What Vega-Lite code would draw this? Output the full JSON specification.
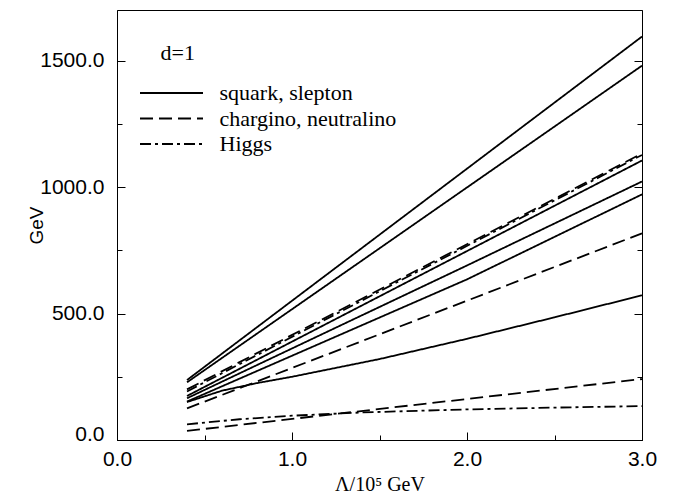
{
  "$schema": "https://vega.github.io/schema/vega-lite/v6.json",
  "autosize": "none",
  "width": 525,
  "height": 430,
  "padding": {"left": 117, "top": 10, "right": 47, "bottom": 54},
  "background": "white",
  "config": {
    "view": {"stroke": "black", "strokeWidth": 1},
    "axis": {"domainColor": "black", "tickColor": "black", "labelColor": "black", "titleColor": "black", "labelFont": "Liberation Sans", "labelFontSize": 21, "grid": false}
  },
  "data": {"values": [
    {"s": "A", "type": "squark, slepton", "x": 0.4, "y": 237}, {"s": "A", "type": "squark, slepton", "x": 3.0, "y": 1595},
    {"s": "B", "type": "squark, slepton", "x": 0.4, "y": 228}, {"s": "B", "type": "squark, slepton", "x": 3.0, "y": 1480},
    {"s": "C", "type": "chargino, neutralino", "x": 0.4, "y": 200}, {"s": "C", "type": "chargino, neutralino", "x": 3.0, "y": 1133},
    {"s": "D", "type": "Higgs", "x": 0.4, "y": 192}, {"s": "D", "type": "Higgs", "x": 3.0, "y": 1127},
    {"s": "E", "type": "squark, slepton", "x": 0.4, "y": 174}, {"s": "E", "type": "squark, slepton", "x": 3.0, "y": 1105},
    {"s": "F", "type": "squark, slepton", "x": 0.4, "y": 165}, {"s": "F", "type": "squark, slepton", "x": 2.0, "y": 690}, {"s": "F", "type": "squark, slepton", "x": 3.0, "y": 1022},
    {"s": "G", "type": "squark, slepton", "x": 0.4, "y": 152}, {"s": "G", "type": "squark, slepton", "x": 2.0, "y": 635}, {"s": "G", "type": "squark, slepton", "x": 3.0, "y": 971},
    {"s": "H", "type": "chargino, neutralino", "x": 0.4, "y": 125}, {"s": "H", "type": "chargino, neutralino", "x": 3.0, "y": 817},
    {"s": "I", "type": "squark, slepton", "x": 0.4, "y": 150}, {"s": "I", "type": "squark, slepton", "x": 0.6, "y": 195}, {"s": "I", "type": "squark, slepton", "x": 0.8, "y": 225}, {"s": "I", "type": "squark, slepton", "x": 1.0, "y": 250}, {"s": "I", "type": "squark, slepton", "x": 1.5, "y": 320}, {"s": "I", "type": "squark, slepton", "x": 2.0, "y": 400}, {"s": "I", "type": "squark, slepton", "x": 2.5, "y": 485}, {"s": "I", "type": "squark, slepton", "x": 3.0, "y": 572},
    {"s": "J", "type": "chargino, neutralino", "x": 0.4, "y": 36}, {"s": "J", "type": "chargino, neutralino", "x": 3.0, "y": 241},
    {"s": "K", "type": "Higgs", "x": 0.4, "y": 62}, {"s": "K", "type": "Higgs", "x": 0.7, "y": 82}, {"s": "K", "type": "Higgs", "x": 1.0, "y": 96}, {"s": "K", "type": "Higgs", "x": 1.4, "y": 109}, {"s": "K", "type": "Higgs", "x": 2.0, "y": 121}, {"s": "K", "type": "Higgs", "x": 2.5, "y": 128}, {"s": "K", "type": "Higgs", "x": 3.0, "y": 134}
  ]},
  "layer": [
    {
      "mark": {"type": "line", "color": "black", "strokeWidth": 1.8},
      "encoding": {
        "x": {"field": "x", "type": "quantitative", "scale": {"domain": [0, 3], "nice": false, "zero": false},
          "axis": {"orient": "bottom", "values": [0, 0.5, 1, 1.5, 2, 2.5, 3],
            "labelExpr": "datum.value % 1 === 0 ? format(datum.value, '.1f') : ''",
            "tickSize": {"condition": {"test": "datum.value % 1 === 0", "value": -8}, "value": -5},
            "labelPadding": 16, "labelFlush": false,
            "title": "Λ/10⁵ GeV", "titleFont": "Liberation Serif", "titleFontSize": 20, "titleFontWeight": "normal", "titlePadding": 5}},
        "y": {"field": "y", "type": "quantitative", "scale": {"domain": [0, 1700], "nice": false},
          "axis": {"orient": "left", "values": [0, 250, 500, 750, 1000, 1250, 1500],
            "labelExpr": "datum.value % 500 === 0 ? format(datum.value, '.1f') : ''",
            "labelBaseline": {"condition": {"test": "datum.value === 0", "value": "alphabetic"}, "value": "middle"},
            "tickSize": {"condition": {"test": "datum.value % 500 === 0", "value": -8}, "value": -5},
            "labelPadding": 21, "labelFlush": false,
            "title": "GeV", "titleFont": "Liberation Sans", "titleFontSize": 19, "titleFontWeight": "normal", "titleX": -71}},
        "detail": {"field": "s", "type": "nominal"},
        "strokeDash": {"field": "type", "type": "nominal",
          "scale": {"domain": ["squark, slepton", "chargino, neutralino", "Higgs"], "range": [[1, 0], [13, 6], [11, 4, 3, 4]]},
          "legend": {"orient": "none", "legendX": 43.5, "legendY": 33, "padding": 0,
            "title": "d=1", "titleFont": "Liberation Serif", "titleFontSize": 22, "titleFontWeight": "normal", "titleColor": "black", "titlePadding": 17,
            "labelFont": "Liberation Serif", "labelFontSize": 22, "labelColor": "black", "labelOffset": 37, "labelLimit": 400,
            "symbolType": "M-3.15,0L3.15,0", "symbolSize": 400, "symbolStrokeWidth": 2, "symbolStrokeColor": "black", "rowPadding": 3.5}}
      }
    },
    {
      "mark": {"type": "line", "color": "black", "strokeOpacity": 0},
      "encoding": {
        "x": {"field": "x", "type": "quantitative"},
        "y": {"field": "y", "type": "quantitative",
          "axis": {"orient": "right", "values": [0, 250, 500, 750, 1000, 1250, 1500], "labels": false, "title": null,
            "tickSize": {"condition": {"test": "datum.value % 500 === 0", "value": -8}, "value": -5}}},
        "detail": {"field": "s", "type": "nominal"}
      }
    }
  ],
  "resolve": {"axis": {"y": "independent"}}
}
